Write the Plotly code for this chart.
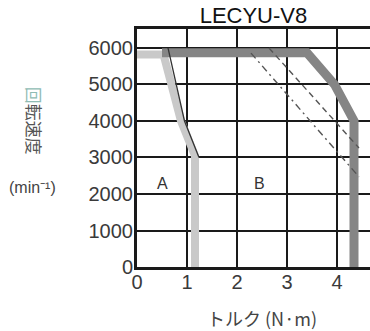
import plotly.graph_objects as go

# Data
x_ticks = [0, 1, 2, 3, 4]
y_ticks = [0, 1000, 2000, 3000, 4000, 5000, 6000]

# Curve A (light gray band)
a_torque = [0, 0.53, 0.88, 1.16, 1.16]
a_speed = [5820, 5820, 4000, 3050, 0]
# thin dark edge along curve A
a_edge_torque = [0.62, 0.95, 1.24]
a_edge_speed = [6000, 4000, 3000]

# Curve B (dark gray band)
b_torque = [0.5, 3.4, 3.95, 4.34, 4.34]
b_speed = [5870, 5870, 5000, 4000, 0]

# Dashed lines
d1_torque = [2.64, 4.44]
d1_speed = [6000, 3260]
d2_torque = [2.28, 4.44]
d2_speed = [5860, 2470]

fig = go.Figure()
fig.add_trace(go.Scatter(x=a_torque, y=a_speed, mode="lines",
                         line=dict(color="#c9c9c9", width=8), hoverinfo="skip"))
fig.add_trace(go.Scatter(x=b_torque, y=b_speed, mode="lines",
                         line=dict(color="#858585", width=9), hoverinfo="skip"))
fig.add_trace(go.Scatter(x=a_edge_torque, y=a_edge_speed, mode="lines",
                         line=dict(color="#333333", width=1.3), hoverinfo="skip"))
fig.add_trace(go.Scatter(x=d1_torque, y=d1_speed, mode="lines",
                         line=dict(color="#555555", width=1.4, dash="6px,4px"), hoverinfo="skip"))
fig.add_trace(go.Scatter(x=d2_torque, y=d2_speed, mode="lines",
                         line=dict(color="#555555", width=1.4, dash="7px,4px,2px,4px"), hoverinfo="skip"))

fig.update_layout(
    width=370, height=331,
    margin=dict(l=137, r=0, t=29, b=64),
    paper_bgcolor="white", plot_bgcolor="white",
    showlegend=False,
    font=dict(family="Liberation Sans, Arial, sans-serif", color="#3a3a3a"),
    title=dict(text="LECYU-V8", x=0.685, xanchor="center", y=0.955, yanchor="middle",
               font=dict(size=22, color="#111111")),
    xaxis=dict(range=[0, 4.66], tickvals=x_ticks, ticktext=[str(v) for v in x_ticks],
               showgrid=True, gridcolor="#1a1a1a", gridwidth=1.5,
               showline=True, linecolor="#1a1a1a", linewidth=3, mirror=True,
               zeroline=False, ticks="", ticklabelstandoff=-5,
               tickfont=dict(size=20, color="#3a3a3a"), fixedrange=True),
    yaxis=dict(range=[0, 6520], tickvals=y_ticks, ticktext=[str(v) for v in y_ticks],
               showgrid=True, gridcolor="#1a1a1a", gridwidth=1.5,
               showline=True, linecolor="#1a1a1a", linewidth=3, mirror=False,
               zeroline=False, ticks="", ticklabelstandoff=-3,
               tickfont=dict(size=20, color="#3a3a3a"), fixedrange=True),
)

fig.add_annotation(text="トルク (N·m)", xref="paper", yref="paper", x=0.536, y=-0.214,
                   xanchor="center", yanchor="middle", showarrow=False,
                   font=dict(size=18, color="#444444",
                             family="Noto Sans CJK JP, Liberation Sans, sans-serif"))
fig.add_annotation(text="<span style='color:#8fbcb4'>回</span>転速度",
                   xref="paper", yref="paper", x=-0.44, y=0.613, textangle=90,
                   xanchor="center", yanchor="middle", showarrow=False,
                   font=dict(size=17, color="#555555",
                             family="Noto Sans CJK JP, sans-serif"))
fig.add_annotation(text="(min⁻¹)", xref="paper", yref="paper", x=-0.45, y=0.336,
                   xanchor="center", yanchor="middle", showarrow=False,
                   font=dict(size=16, color="#444444"))
fig.add_annotation(text="A", x=0.5, y=2300, showarrow=False,
                   font=dict(size=16, color="#333333"))
fig.add_annotation(text="B", x=2.45, y=2300, showarrow=False,
                   font=dict(size=16, color="#333333"))

fig.write_html("out.html", config={"displayModeBar": False},
               post_script="document.body.style.margin='0';")
